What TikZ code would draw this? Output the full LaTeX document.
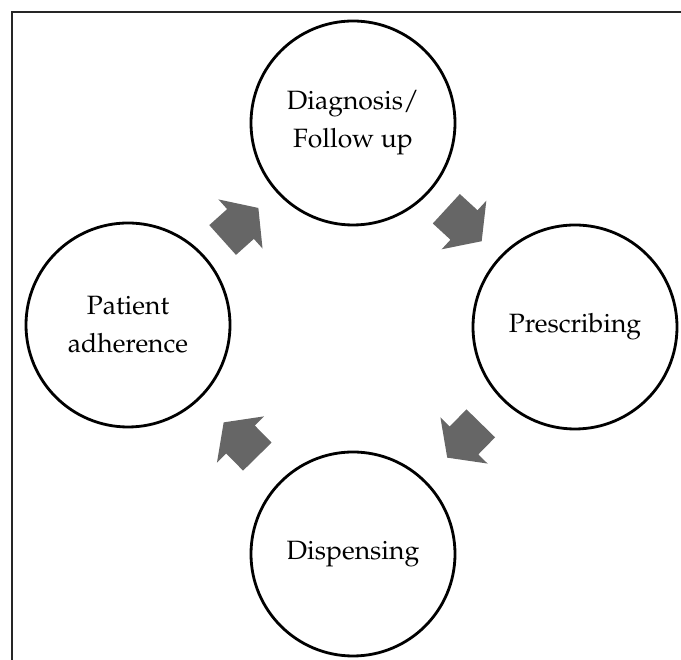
\documentclass[tikz,border=0pt]{standalone}
\usepackage[T1]{fontenc}
\renewcommand{\rmdefault}{ppl}
\definecolor{arrowgray}{HTML}{666666}
\begin{document}
\begin{tikzpicture}[x=1pt, y=1pt,
  stage/.style={circle, draw=black, line width=2.8pt, minimum size=204pt,
    inner sep=0pt, align=center, font=\fontsize{26.5}{38}\selectfont},
  blockarrow/.pic={
    \fill[arrowgray] (-24,-20) -- (0,-20) -- (0,-33) -- (24,0)
      -- (0,33) -- (0,20) -- (-24,20) -- cycle;
  },
  frame/.style={draw=black!85, line width=1.8pt},
]
\useasboundingbox (0,0) rectangle (681,660);

% outer frame (top and left edges)
\draw[frame] (12,0) -- (12,648) -- (681,648);

% the four stages of the cycle
\node[stage] (T) at (353,537) {Diagnosis/\\Follow up};
\node[stage] (R) at (575,333) {Prescribing};
\node[stage] (B) at (353,106) {Dispensing};
\node[stage] (L) at (128,335) {Patient\\adherence};

% block arrows between consecutive stages
\path (L) -- (T) pic[pos=0.5, sloped, allow upside down] {blockarrow};
\path (T) -- (R) pic[pos=0.5, sloped, allow upside down] {blockarrow};
\path (R) -- (B) pic[pos=0.5, sloped, allow upside down] {blockarrow};
\path (B) -- (L) pic[pos=0.5, sloped, allow upside down] {blockarrow};
\end{tikzpicture}
\end{document}
